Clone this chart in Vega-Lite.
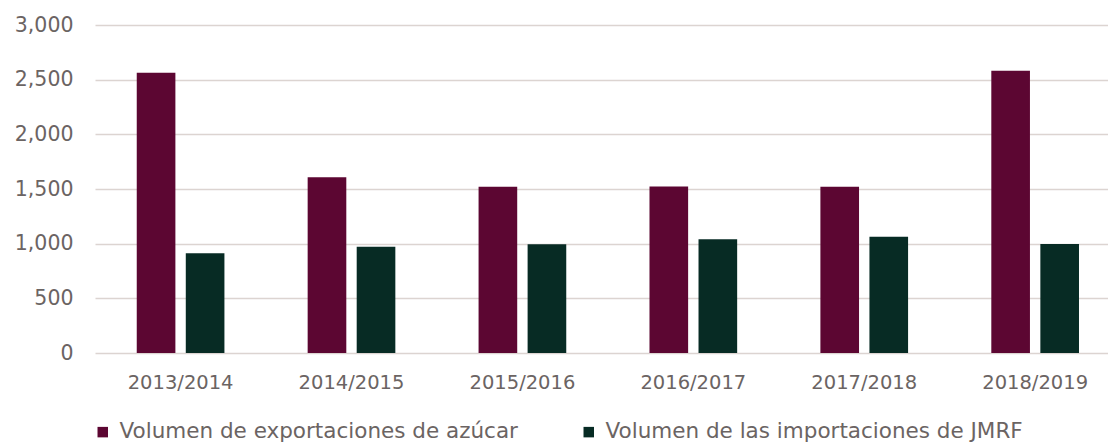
{
  "$schema": "https://vega.github.io/schema/vega-lite/v6.json",
  "width": 1013,
  "height": 328,
  "autosize": {"type": "none"},
  "padding": {"left": 95, "top": 25, "right": 0, "bottom": 91},
  "background": "#ffffff",
  "config": {
    "view": {"stroke": null},
    "font": "DejaVu Sans"
  },
  "data": {
    "values": [
      {"ciclo": "2013/2014", "serie": "Volumen de exportaciones de azúcar", "valor": 2564},
      {"ciclo": "2013/2014", "serie": "Volumen de las importaciones de JMRF", "valor": 912},
      {"ciclo": "2014/2015", "serie": "Volumen de exportaciones de azúcar", "valor": 1607},
      {"ciclo": "2014/2015", "serie": "Volumen de las importaciones de JMRF", "valor": 972},
      {"ciclo": "2015/2016", "serie": "Volumen de exportaciones de azúcar", "valor": 1521},
      {"ciclo": "2015/2016", "serie": "Volumen de las importaciones de JMRF", "valor": 994},
      {"ciclo": "2016/2017", "serie": "Volumen de exportaciones de azúcar", "valor": 1524},
      {"ciclo": "2016/2017", "serie": "Volumen de las importaciones de JMRF", "valor": 1040},
      {"ciclo": "2017/2018", "serie": "Volumen de exportaciones de azúcar", "valor": 1521},
      {"ciclo": "2017/2018", "serie": "Volumen de las importaciones de JMRF", "valor": 1064},
      {"ciclo": "2018/2019", "serie": "Volumen de exportaciones de azúcar", "valor": 2582},
      {"ciclo": "2018/2019", "serie": "Volumen de las importaciones de JMRF", "valor": 997}
    ]
  },
  "mark": {"type": "bar"},
  "encoding": {
    "x": {
      "field": "ciclo",
      "type": "nominal",
      "sort": null,
      "scale": {"paddingInner": 0.487, "paddingOuter": 0.207, "align": 0.59},
      "axis": {
        "title": null,
        "labelAngle": 0,
        "labelFontSize": 19.5,
        "labelColor": "#6b6463",
        "labelPadding": 20,
        "domain": false,
        "ticks": false,
        "grid": false
      }
    },
    "xOffset": {
      "field": "serie",
      "type": "nominal",
      "sort": ["Volumen de exportaciones de azúcar", "Volumen de las importaciones de JMRF"],
      "scale": {"paddingInner": 0.212, "paddingOuter": 0}
    },
    "y": {
      "field": "valor",
      "type": "quantitative",
      "scale": {"domain": [0, 3000], "nice": false},
      "axis": {
        "title": null,
        "values": [0, 500, 1000, 1500, 2000, 2500, 3000],
        "format": ",d",
        "labelFontSize": 20.5,
        "labelColor": "#6b6463",
        "labelPadding": 22,
        "domain": false,
        "ticks": false,
        "grid": true,
        "gridColor": "#dcd4d1",
        "gridWidth": 1.5
      }
    },
    "color": {
      "field": "serie",
      "type": "nominal",
      "scale": {
        "domain": ["Volumen de exportaciones de azúcar", "Volumen de las importaciones de JMRF"],
        "range": ["#5c0632", "#072b24"]
      },
      "legend": {
        "title": null,
        "orient": "none",
        "legendX": -3,
        "legendY": 396,
        "direction": "horizontal",
        "symbolType": "square",
        "symbolSize": 110,
        "symbolStrokeWidth": 0,
        "labelFontSize": 21.5,
        "labelColor": "#6b6463",
        "labelOffset": 6,
        "columnPadding": 60,
        "labelLimit": 700,
        "padding": 0
      }
    }
  }
}
